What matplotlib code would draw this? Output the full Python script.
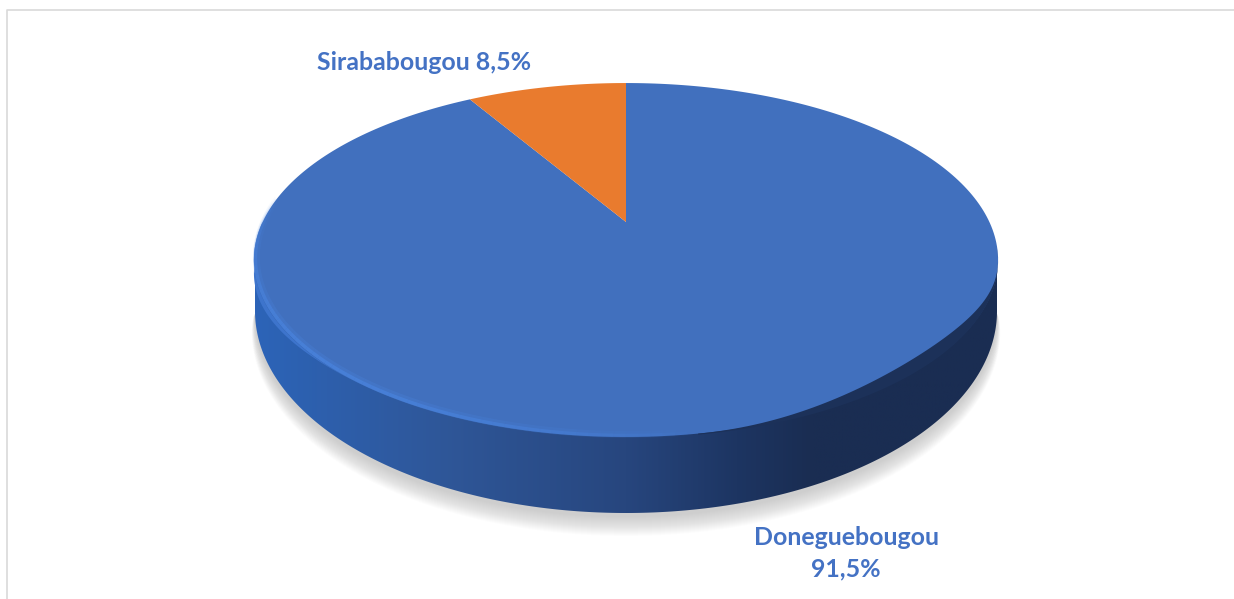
import numpy as np
import matplotlib
matplotlib.use('Agg')
import matplotlib.pyplot as plt
from matplotlib.colors import LinearSegmentedColormap
from matplotlib.patches import Polygon

# values
villages = ['Doneguebougou', 'Sirababougou']
shares = [91.5, 8.5]
labels = ['Doneguebougou\n91,5%', 'Sirababougou 8,5%']
label_pos = [(846, 553), (424, 62)]
colors = ['#4170BE', '#E97B2E']

# perspective of the disc, in pixels
cx, cy = 626, 222
k = 0.2147
a = 363.4
b = 168.8


def project(theta):
    # theta is clockwise from the top, on the flat disc
    u = np.sin(theta)
    v = np.cos(theta)
    w = 1 + k * v
    return cx + a * u / w, cy - b * v / w


def wedge(start, end):
    t = np.linspace(start, end, 300)
    x, y = project(t)
    return np.column_stack([np.r_[cx, x], np.r_[cy, y]])


def base_edge(grow=0.0):
    # outer edge of the side wall, lower half only
    t = np.linspace(0, np.pi, 300)
    side = np.sin(t) ** 0.6
    x = 626 - (371 + grow * side) * np.cos(t)
    y = 311 + (202 + grow) * np.sin(t)
    return x, y


fig = plt.figure(figsize=(12.34, 5.99), dpi=100)
ax = fig.add_axes([0, 0, 1, 1])
ax.set_xlim(0, 1234)
ax.set_ylim(599, 0)
ax.axis('off')

# frame
ax.plot([6.5, 6.5, 1234], [599, 9.5, 9.5], color='#d9d9d9', lw=1.2)

# soft shadow under the disc
for i in range(20):
    sx, sy = base_edge(20 - i)
    ax.fill(sx, sy + 3, color='#808080', alpha=0.02, lw=0, zorder=1)

# side wall with a left to right gradient
wall_cmap = LinearSegmentedColormap.from_list(
    'wall', [(0, '#2C64B8'), (0.25, '#2F5799'), (0.5, '#27467E'), (0.65, '#1D3562'), (0.75, '#1A2D52'), (1, '#1A2D52')])
wx, wy = base_edge()
wall_pts = np.column_stack([np.r_[255, wx, 997], np.r_[262, wy, 262]])
wall = Polygon(wall_pts, closed=True, fc='none', ec='none', zorder=2)
ax.add_patch(wall)
grad = np.linspace(0, 1, 256).reshape(1, -1)
im = ax.imshow(grad, cmap=wall_cmap, extent=(254, 998, 520, 250), aspect='auto', zorder=2)
im.set_clip_path(wall)
ax.set_xlim(0, 1234)
ax.set_ylim(599, 0)

# bevel on the left, the face runs a little past the ellipse there
t = np.linspace(1.2 * np.pi, 1.5 * np.pi, 80)
lx, ly = project(t)
drop = 15 * np.sin((t - t[0]) / (t[-1] - t[0]) * np.pi / 2) ** 2
ax.fill(np.r_[lx, lx[::-1]], np.r_[ly, (ly + drop)[::-1]], color='#3D74CC', lw=0, zorder=3)

# top of the pie, clockwise from 12 o'clock
angles = np.cumsum([0] + shares) / 100 * 2 * np.pi
for i in range(len(shares)):
    ax.add_patch(Polygon(wedge(angles[i], angles[i + 1]), closed=True, fc=colors[i], ec='none', zorder=3))

# bevel on the right, the wall climbs over the ellipse there
t = np.linspace(0.55 * np.pi, 0.95 * np.pi, 80)
rx, ry = project(t)
lift = 14 * np.sin((t - t[0]) / (t[-1] - t[0]) * np.pi) ** 2
ax.fill(np.r_[rx, rx[::-1]], np.r_[ry + 1, (ry - lift)[::-1]], color='#1C3159', lw=0, zorder=4)

# highlight along the lower left rim
rim = np.linspace(0.95 * np.pi, 1.54 * np.pi, 70)
for j in range(len(rim) - 1):
    seg = np.linspace(rim[j], rim[j + 1], 4)
    hx, hy = project(seg)
    f = (rim[j] - rim[0]) / (rim[-1] - rim[0])
    fade = np.sin(f * np.pi) ** 0.7
    ax.plot(hx + 2.5, hy - 2.5, color='#4A86E2', lw=5, alpha=0.25 * fade, solid_capstyle='butt', zorder=4)
    ax.plot(hx + 1.5, hy - 1.5, color='#4A86E2', lw=2.5, alpha=0.6 * fade, solid_capstyle='butt', zorder=4)

for text, pos in zip(labels, label_pos):
    ax.text(pos[0], pos[1], text, color='#4472C4', fontsize=17.9, fontweight='bold', family='Lato',
            ha='center', va='center', linespacing=1.42, zorder=5)

fig.savefig('out.png', dpi=100)
